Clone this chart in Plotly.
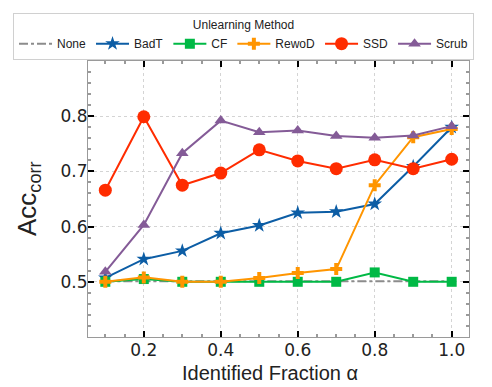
import plotly.graph_objects as go

alpha = [0.1, 0.2, 0.3, 0.4, 0.5, 0.6, 0.7, 0.8, 0.9, 1.0]
none_vals = [0.501, 0.501, 0.501, 0.501, 0.501, 0.501, 0.501, 0.501, 0.501, 0.501]
badt_vals = [0.507, 0.541, 0.556, 0.588, 0.602, 0.625, 0.627, 0.641, 0.709, 0.780]
cf_vals = [0.500, 0.505, 0.500, 0.500, 0.500, 0.500, 0.500, 0.517, 0.500, 0.500]
rewod_vals = [0.500, 0.508, 0.500, 0.500, 0.507, 0.516, 0.523, 0.675, 0.762, 0.777]
ssd_vals = [0.666, 0.799, 0.675, 0.697, 0.739, 0.719, 0.705, 0.721, 0.705, 0.722]
scrub_vals = [0.518, 0.603, 0.733, 0.792, 0.771, 0.774, 0.764, 0.761, 0.765, 0.782]

x_ticks = [0.2, 0.4, 0.6, 0.8, 1.0]
y_ticks = [0.5, 0.6, 0.7, 0.8]
x_title = "Identified Fraction α"
y_title = "Acc<sub>corr</sub>"

TICKFONT = "DejaVu Sans"
LABELFONT = "Liberation Sans"

series = [
    ("None", none_vals, "#8c8c8c", None, 0, "dashdot"),
    ("BadT", badt_vals, "#0C5DA5", "star", 11, "solid"),
    ("CF", cf_vals, "#00B945", "square", 10, "solid"),
    ("RewoD", rewod_vals, "#FF9500", "cross", 10, "solid"),
    ("SSD", ssd_vals, "#FF2C00", "circle", 13, "solid"),
    ("Scrub", scrub_vals, "#845B97", "triangle-up", 11, "solid"),
]

fig = go.Figure()
for name, vals, color, sym, size, dash in series:
    if sym is None:
        fig.add_trace(go.Scatter(x=alpha, y=vals, name=name, mode="lines",
                                 line=dict(color=color, width=2, dash=dash)))
    else:
        fig.add_trace(go.Scatter(x=alpha, y=vals, name=name, mode="lines+markers",
                                 line=dict(color=color, width=2, dash=dash),
                                 marker=dict(symbol=sym, size=size, color=color,
                                             line=dict(width=0))))

axis_common = dict(
    showline=True, linecolor="#9a9a9a", linewidth=1, mirror="ticks",
    ticks="inside", ticklen=6, tickwidth=1.5, tickcolor="black",
    showgrid=True, gridcolor="#d4d4d4", griddash="dot", gridwidth=1,
    zeroline=False, automargin=False,
    tickfont=dict(family=TICKFONT, size=17, color="#222"),
)

fig.update_xaxes(
    range=[0.055, 1.045], tickvals=x_ticks, ticktext=["0.2", "0.4", "0.6", "0.8", "1.0"],
    ticklabelstandoff=-2,
    minor=dict(ticks="inside", ticklen=3, tickcolor="#9a9a9a", dtick=0.05, tick0=0.0, showgrid=False),
    **axis_common,
)
fig.update_yaxes(
    range=[0.4, 0.9], tickvals=y_ticks, ticktext=["0.5", "0.6", "0.7", "0.8"],
    ticklabelstandoff=-4,
    minor=dict(ticks="inside", ticklen=3, tickcolor="#9a9a9a", dtick=0.02, tick0=0.0, showgrid=False),
    **axis_common,
)

fig.add_annotation(text=x_title, xref="paper", yref="paper",
                   x=(270 - 88) / 381, y=-(386 - 337) / 279, xanchor="center", yanchor="bottom",
                   showarrow=False, borderpad=0, font=dict(family=LABELFONT, size=20, color="#222"))
fig.add_annotation(text=y_title, xref="paper", yref="paper", textangle=-90,
                   x=(28 - 88) / 381, y=0.5, xanchor="center", yanchor="middle",
                   showarrow=False, font=dict(family=LABELFONT, size=26, color="#222"))

fig.update_layout(
    width=492, height=387,
    margin=dict(l=88, r=23, t=58, b=50),
    plot_bgcolor="white", paper_bgcolor="white",
    font=dict(family=LABELFONT, color="#222"),
    legend=dict(
        orientation="h",
        title=dict(text="Unlearning Method", side="top center", font=dict(family=LABELFONT, size=12)),
        font=dict(family=LABELFONT, size=12),
        xref="paper", yref="paper",
        x=(13 - 88) / 381, xanchor="left", y=1 + (58 - 9) / 279, yanchor="top",
        bordercolor="#d0d0d0", borderwidth=1, bgcolor="white",
        itemwidth=33, tracegroupgap=0,
    ),
)

fig.write_html("out.html")
